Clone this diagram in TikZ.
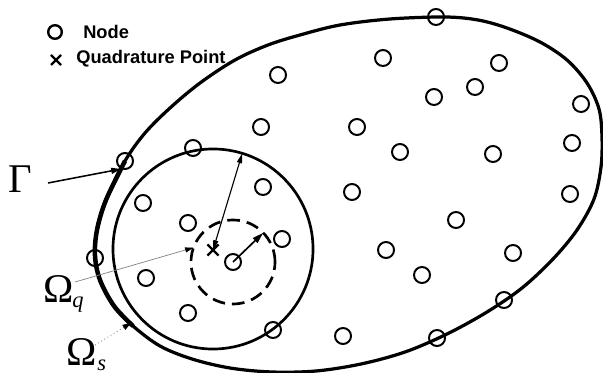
\documentclass[tikz,border=0pt]{standalone}
\usepackage{fontspec}
\newfontfamily\legfont{Liberation Sans}
\newfontfamily\grkfont{Liberation Serif}
\usetikzlibrary{arrows.meta,shapes.misc}
\begin{document}
\begin{tikzpicture}[x=0.025cm,y=-0.025cm,
  nd/.style={circle,draw,line width=1.4pt,minimum size=0.4cm,inner sep=0pt,outer sep=0pt},
  bnd/.style={line width=2.3pt},
  bigsym/.style={anchor=base west,inner sep=0pt,font=\grkfont\fontsize{29}{30}\selectfont},
  subsym/.style={anchor=base west,inner sep=0pt,font=\grkfont\itshape\fontsize{16}{18}\selectfont},
  legtext/.style={anchor=base west,inner sep=0pt,font=\legfont\bfseries\fontsize{13}{15}\selectfont},
  qpt/.style={cross out,draw,line width=1.6pt,inner sep=0pt,outer sep=0pt},
  tip/.style={-{Triangle[length=7pt,width=4.2pt]}}
]
\useasboundingbox (0,0) rectangle (603,373);

% outer boundary Gamma
\draw[bnd] plot[smooth cycle,tension=0.55] coordinates {
(445,17)(478,20)(507,28)(540,42)(567,60)(587,83)(599,109)(602,137)(601,167)(594,199)
(577,230)(553,259)(522,288)(487,312)(447,334)(405,352)(361,364)(316,371)(272,372)(230,368)
(192,359)(160,346)(133,326)(114,306)(100,280)(95,256)(97,230)(106,200)(125,161)(145,133)
(170,108)(200,83)(235,60)(268,45)(300,35)(340,25)(390,19)};
\draw[line width=3.2pt] plot[smooth,tension=0.55] coordinates {
(125,161)(106,200)(97,230)(95,256)(100,280)(114,306)(133,326)};

% support domain and quadrature domain
\node[nd] (n21) at (233,262) {};
\node[circle,draw,line width=1.9pt,minimum size=5cm,inner sep=0pt,outer sep=0pt] (omS) at (213,249) {};
\node[circle,draw,line width=1.9pt,dash pattern=on 9pt off 5pt,minimum size=2.1cm,inner sep=0pt,outer sep=0pt] (omQ) at (n21.center) {};
\node[qpt,minimum size=0.28cm] (qp) at (213,250) {};

% nodes
\foreach \nm/\px/\py in {n1/436/17,n2/383/58,n3/499/63,n4/475/87,n5/434/97,n6/581/104,
  n7/261/127,n8/357/127,n9/572/143,n10/400/152,n11/493/154,n12/125/161,n13/193/148,
  n14/263/187,n15/143/203,n16/352/192,n17/570/194,n18/188/223,n19/456/220,n20/282/239,
  n22/95/258,n23/386/250,n24/513/253,n25/146/278,n26/422/275,n27/504/300,n28/188/313,
  n29/273/330,n30/343/336,n31/437/338,n32/278/75}
  \node[nd] (\nm) at (\px,\py) {};

% radius arrows
\draw[line width=0.8pt,{Triangle[length=7pt,width=3.6pt]}-{Triangle[length=7pt,width=3.6pt]}] (qp.center) -- (omS.73);
\draw[line width=1.2pt,-{Triangle[length=8pt,width=4.6pt]}] (n21.center) -- (omQ.44);

% labels
\node[bigsym] (gam) at (8,193) {Γ};
\node[bigsym] (omq) at (43,302) {Ω};
\node[subsym] (omqsub) at (72,307) {q};
\node[bigsym] (oms) at (66,365) {Ω};
\node[subsym] (omssub) at (97,370) {s};

\coordinate (gS) at (48,183);
\coordinate (gT) at (121,169);
\draw[line width=1.1pt,tip] (gS) -- (gT);
\coordinate (qS) at (75,282);
\draw[gray,line width=0.5pt,-{Triangle[color=black,length=6pt,width=3.6pt]}] (qS) -- (omQ.160);
\coordinate (sS) at (95,345);
\coordinate (sT) at (131,323);
\draw[gray,dotted,line width=0.6pt,-{Triangle[color=black,length=6pt,width=4pt]}] (sS) -- (sT);

% legend
\node[circle,draw,line width=1.7pt,minimum size=0.34cm,inner sep=0pt] (legC) at (55,32) {};
\node[legtext] (legN) at (83,39) {Node};
\node[qpt,minimum size=0.25cm] (legX) at (56,60) {};
\node[legtext] (legQ) at (76,64) {Quadrature Point};
\end{tikzpicture}
\end{document}
